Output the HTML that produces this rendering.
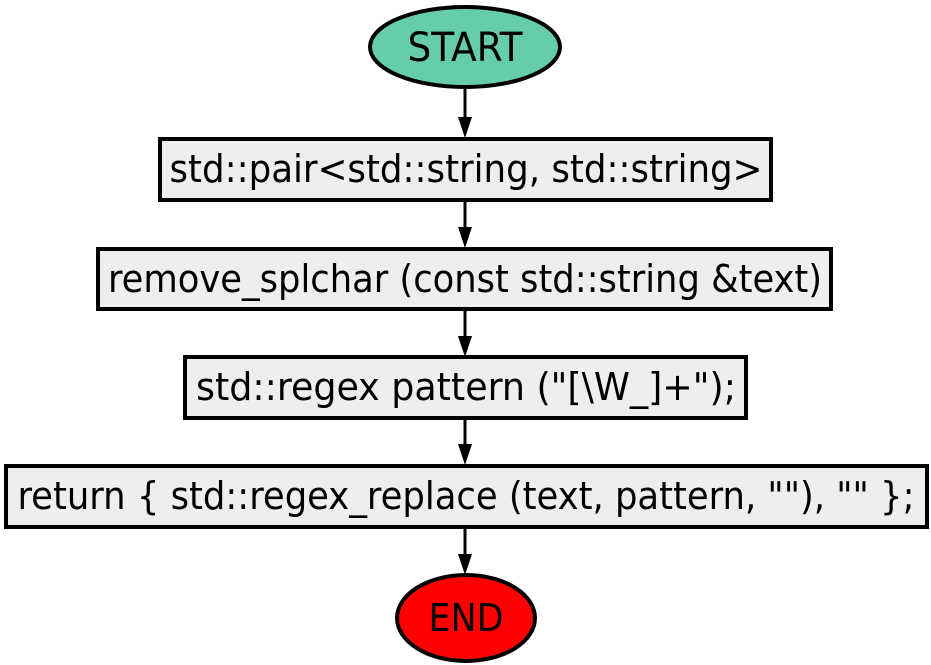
<!DOCTYPE html>
<html><head><style>html,body{margin:0;padding:0;background:#fff}svg{display:block}</style></head>
<body>
<svg width="931" height="665" viewBox="0 0 931 665" xmlns="http://www.w3.org/2000/svg" font-family="'DejaVu Sans Condensed','Liberation Sans',sans-serif" font-size="38">
<g stroke="#000" stroke-width="3">
<line x1="465" y1="89" x2="465" y2="120"/>
<line x1="465" y1="201" x2="465" y2="230"/>
<line x1="465" y1="310" x2="465" y2="339"/>
<line x1="465" y1="419" x2="465" y2="447"/>
<line x1="465" y1="528" x2="465" y2="557"/>
</g>
<g fill="#000">
<path d="M458,117 L472,117 L465,138 Z"/>
<path d="M458,227 L472,227 L465,248 Z"/>
<path d="M458,336 L472,336 L465,357 Z"/>
<path d="M458,444 L472,444 L465,465 Z"/>
<path d="M458,554 L472,554 L465,575 Z"/>
</g>
<g stroke="#000" stroke-width="4">
<ellipse cx="465" cy="47" rx="95" ry="40" fill="#66cdaa"/>
<rect x="160" y="139" width="611" height="61" fill="#eeeeee"/>
<rect x="98" y="249" width="733" height="60" fill="#eeeeee"/>
<rect x="185" y="357" width="561" height="61" fill="#eeeeee"/>
<rect x="6" y="466" width="921" height="61" fill="#eeeeee"/>
<ellipse cx="466" cy="618" rx="69" ry="43" fill="#ff0000"/>
</g>
<g fill="#000" text-anchor="middle">
<text x="465" y="61" font-size="40" textLength="115" lengthAdjust="spacingAndGlyphs">START</text>
<text x="466" y="182" textLength="593" lengthAdjust="spacingAndGlyphs">std::pair&lt;std::string, std::string&gt;</text>
<text x="465" y="292" textLength="714" lengthAdjust="spacingAndGlyphs">remove_splchar (const std::string &amp;text)</text>
<text x="466" y="400" textLength="540" lengthAdjust="spacingAndGlyphs">std::regex pattern ("[\W_]+");</text>
<text x="466" y="509" textLength="897" lengthAdjust="spacingAndGlyphs">return { std::regex_replace (text, pattern, ""), "" };</text>
<text x="466" y="631" textLength="75" lengthAdjust="spacingAndGlyphs">END</text>
</g>
</svg>
</body></html>
